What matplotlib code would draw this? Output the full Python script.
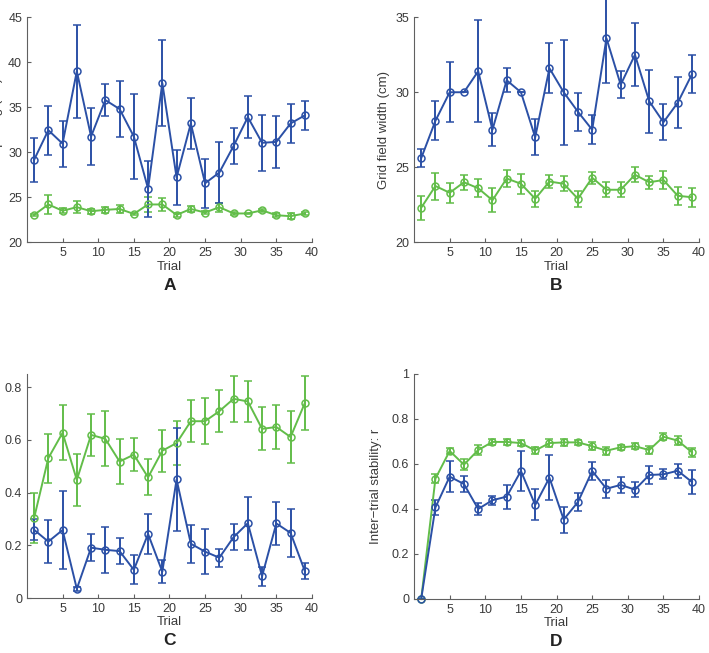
import matplotlib
matplotlib.use("Agg")
import matplotlib.pyplot as plt

BLUE = "#2b50a6"
GREEN = "#62bd49"
TXT = "#3a3a3a"

trials = list(range(1, 40, 2))

# A: grid spacing (cm)
a_blue = [29.15, 32.45, 30.96, 39.0, 31.75, 35.8, 34.8, 31.75, 25.96, 37.7,
          27.2, 33.2, 26.55, 27.75, 30.7, 33.9, 31.05, 31.15, 33.2, 34.1]
a_blue_err = [2.4, 2.7, 2.55, 5.15, 3.2, 1.75, 3.15, 4.75, 3.1, 4.8,
              3.05, 2.8, 2.7, 3.35, 1.95, 2.35, 3.1, 2.9, 2.2, 1.6]
a_green = [23.04, 24.2, 23.5, 23.9, 23.45, 23.6, 23.7, 23.15, 24.2, 24.2,
           23.04, 23.7, 23.3, 23.9, 23.2, 23.2, 23.55, 23.0, 22.9, 23.2]
a_green_err = [0.15, 1.1, 0.3, 0.65, 0.3, 0.35, 0.4, 0.15, 0.8, 0.75,
               0.2, 0.3, 0.2, 0.5, 0.15, 0.1, 0.2, 0.2, 0.3, 0.2]

# B: grid field width (cm)
b_blue = [25.6, 28.1, 30.0, 30.0, 31.4, 27.5, 30.8, 30.0, 27.0, 31.6,
          30.0, 28.7, 27.5, 33.6, 30.5, 32.5, 29.4, 28.0, 29.3, 31.2]
b_blue_err = [0.6, 1.3, 2.0, 0.0, 3.4, 1.1, 0.8, 0.0, 1.2, 1.65,
              3.5, 1.25, 0.95, 3.0, 0.9, 2.1, 2.1, 1.2, 1.7, 1.25]
b_green = [22.3, 23.75, 23.3, 24.0, 23.6, 22.8, 24.25, 23.9, 22.9, 24.05,
           23.9, 22.9, 24.3, 23.5, 23.5, 24.5, 24.0, 24.15, 23.1, 23.0]
b_green_err = [0.8, 0.9, 0.65, 0.5, 0.6, 0.8, 0.55, 0.65, 0.55, 0.45,
               0.5, 0.55, 0.4, 0.5, 0.5, 0.5, 0.45, 0.6, 0.6, 0.65]

# C: gridness score
c_blue = [0.259, 0.214, 0.258, 0.035, 0.191, 0.183, 0.178, 0.107, 0.243, 0.100,
          0.450, 0.206, 0.176, 0.153, 0.231, 0.284, 0.083, 0.283, 0.247, 0.102]
c_blue_err = [0.04, 0.083, 0.148, 0.008, 0.051, 0.087, 0.05, 0.055, 0.077, 0.043,
              0.194, 0.072, 0.086, 0.034, 0.05, 0.101, 0.036, 0.08, 0.09, 0.03]
c_green = [0.303, 0.531, 0.627, 0.448, 0.619, 0.604, 0.518, 0.544, 0.458, 0.559,
           0.588, 0.671, 0.671, 0.709, 0.756, 0.746, 0.642, 0.649, 0.611, 0.740]
c_green_err = [0.095, 0.093, 0.104, 0.1, 0.079, 0.104, 0.085, 0.063, 0.068, 0.08,
               0.085, 0.08, 0.087, 0.08, 0.088, 0.077, 0.082, 0.085, 0.1, 0.102]

# D: inter-trial stability
d_blue = [0.0, 0.407, 0.544, 0.511, 0.400, 0.439, 0.455, 0.569, 0.418, 0.539,
          0.353, 0.431, 0.569, 0.490, 0.507, 0.486, 0.551, 0.554, 0.570, 0.520]
d_blue_err = [0.0, 0.033, 0.068, 0.035, 0.027, 0.02, 0.053, 0.087, 0.069, 0.1,
              0.058, 0.04, 0.038, 0.039, 0.035, 0.033, 0.042, 0.022, 0.031, 0.054]
d_green = [0.0, 0.535, 0.658, 0.597, 0.662, 0.698, 0.698, 0.693, 0.660, 0.693,
           0.696, 0.696, 0.679, 0.659, 0.674, 0.679, 0.662, 0.721, 0.704, 0.652]
d_green_err = [0.0, 0.02, 0.012, 0.025, 0.023, 0.015, 0.015, 0.012, 0.015, 0.018,
               0.015, 0.012, 0.018, 0.018, 0.012, 0.013, 0.018, 0.015, 0.02, 0.02]

# letter, axes rect, ylabel, ylim, yticks, ytick labels, ylabel x (axes frac), blue, green
panels = [
    ("A", [0.038, 0.629, 0.402, 0.3446], "Grid spacing (cm)", (20, 45),
     [20, 25, 30, 35, 40, 45], ["20", "25", "30", "35", "40", "45"], -0.084,
     (a_blue, a_blue_err), (a_green, a_green_err)),
    ("B", [0.584, 0.629, 0.402, 0.3446], "Grid field width (cm)", (20, 35),
     [20, 25, 30, 35], ["20", "25", "30", "35"], -0.084,
     (b_blue, b_blue_err), (b_green, b_green_err)),
    ("C", [0.038, 0.0842, 0.402, 0.343], "Gridness score", (0, 0.85),
     [0, 0.2, 0.4, 0.6, 0.8], ["0", "0.2", "0.4", "0.6", "0.8"], -0.112,
     (c_blue, c_blue_err), (c_green, c_green_err)),
    ("D", [0.584, 0.0827, 0.402, 0.3446], "Inter\u2212trial stability: r", (0, 1),
     [0, 0.2, 0.4, 0.6, 0.8, 1], ["0", "0.2", "0.4", "0.6", "0.8", "1"], -0.112,
     (d_blue, d_blue_err), (d_green, d_green_err)),
]

plt.rcParams["font.family"] = ["Liberation Sans", "DejaVu Sans"]

fig = plt.figure(figsize=(7.09, 6.53), dpi=100)

for letter, rect, ylabel, ylim, yticks, ytl, lab_x, blue, green in panels:
    ax = fig.add_axes(rect)
    # green underneath, blue on top
    for (vals, errs), col in [(green, GREEN), (blue, BLUE)]:
        ax.errorbar(trials, vals, yerr=errs, color=col, lw=1.4, elinewidth=1.4,
                    capsize=2.6, capthick=1.4, marker="o", markersize=5,
                    markerfacecolor="none", markeredgecolor=col, markeredgewidth=1.1,
                    clip_on=False)
    ax.set_xlim(0, 40)
    ax.set_ylim(*ylim)
    ax.set_xticks([5, 10, 15, 20, 25, 30, 35, 40])
    ax.set_yticks(yticks)
    ax.set_yticklabels(ytl)
    for s in ("top", "right"):
        ax.spines[s].set_visible(False)
    for s in ("left", "bottom"):
        ax.spines[s].set_color("#606060")
        ax.spines[s].set_linewidth(0.8)
    ax.tick_params(direction="in", length=3, width=0.8, colors="#606060",
                   labelcolor=TXT, labelsize=9)
    ax.set_xlabel("Trial", fontsize=9.5, color=TXT, labelpad=1)
    ax.set_ylabel(ylabel, fontsize=9.5, color=TXT)
    ax.yaxis.set_label_coords(lab_x, 0.5)
    ax.text(0.5, -0.19, letter, transform=ax.transAxes, ha="center", va="center",
            fontsize=12.5, fontweight="bold", color="#222222")

fig.savefig("out.png", dpi=100)
